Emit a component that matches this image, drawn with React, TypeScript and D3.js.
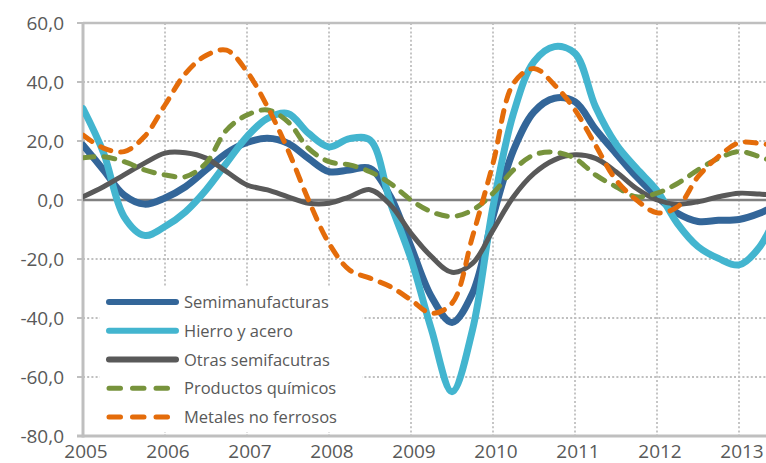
import * as d3 from "d3";

// trimestres (años decimales)
const quarters = d3.range(0, 35).map(i => 2005 + i * 0.25);

const semimanufacturas = [18.6, 10.2, 1.7, -1.4, 0.7, 4.5, 10.2, 15.9, 19.5, 20.9, 19.2, 14.1, 9.6, 10.2, 10.7, 1.1, -15.8, -32.8, -41.5, -31.6, -5.6, 16.9, 29.9, 34.5, 33.3, 24, 15.8, 7.9, 1.1, -4.5, -7.3, -6.9, -6.6, -4.5, -1];
const hierroAcero = [31, 16, -5.6, -12, -9, -4, 3.4, 12.5, 21.5, 27.7, 29.3, 22.6, 18, 20.8, 20.3, -1.1, -20, -44, -65, -44, -2.3, 29.4, 46.9, 52, 49.7, 31.6, 19, 10.7, 3.2, -8, -15.8, -19.8, -22, -16, -2];
const otrasSemi = [1.1, 4.5, 8.5, 12.5, 15.9, 16, 14.2, 9.6, 5.1, 3.4, 1.1, -1.1, -1.1, 1.1, 3.5, -1.7, -11.3, -19.2, -24.5, -21.5, -10.2, 1.1, 9, 13.6, 15.3, 14.1, 9.6, 3.9, 0, -1.4, -0.6, 1.1, 2.3, 2, 1.5];
const productosQuimicos = [14.3, 14.7, 13, 10.2, 8.5, 7.9, 12.5, 23.7, 28.8, 30.5, 26.5, 17.5, 13, 11.9, 9.6, 5.6, 0, -4, -5.6, -3.4, 2.3, 10.2, 15.3, 16.2, 14.1, 8.5, 4.5, 1.1, 2.3, 5.6, 10.2, 14.1, 16.4, 14.7, 12];
const metalesNoFerrosos = [22, 17.6, 16.4, 21.5, 32.2, 42.9, 49, 50.8, 43.5, 31.6, 16.9, 0, -14.7, -23.7, -26.5, -29.4, -33.9, -38.4, -35, -12.4, 12.4, 39.5, 44.6, 39, 30.5, 18.6, 6.8, 0, -4.3, -2.3, 7.9, 14.7, 19.4, 19.2, 18];

const yTicks = [60, 40, 20, 0, -20, -40, -60, -80];
const years = [2005, 2006, 2007, 2008, 2009, 2010, 2011, 2012, 2013];

const series = [
  { name: "Semimanufacturas", values: semimanufacturas, color: "#336699", width: 7, dash: null },
  { name: "Hierro y acero", values: hierroAcero, color: "#43B5CF", width: 7, dash: null },
  { name: "Otras semifacutras", values: otrasSemi, color: "#595959", width: 5, dash: null },
  { name: "Productos químicos", values: productosQuimicos, color: "#77933C", width: 5, dash: "11 10" },
  { name: "Metales no ferrosos", values: metalesNoFerrosos, color: "#E46C0A", width: 5, dash: "11 10" },
];

const W = 766, H = 463;
const left = 83, top = 23, bottom = 436;
const font = "'Open Sans', 'Noto Sans', sans-serif";

export default function App() {
  const x = d3.scaleLinear().domain([2005, 2013]).range([left, 739]);
  const y = d3.scaleLinear().domain([-80, 60]).range([bottom, top]);

  const line = d3.line<number>()
    .x((_, i) => x(quarters[i]))
    .y(d => y(d))
    .curve(d3.curveCatmullRom.alpha(0.5));

  const grid = "#BFBFBF";

  return (
    <svg width={W} height={H} style={{ position: "absolute", left: 0, top: 0 }} fontFamily={font}>
      <rect width={W} height={H} fill="#fff" />
      <defs>
        <clipPath id="plot"><rect x={left} y={0} width={W - left} height={H} /></clipPath>
      </defs>

      {/* rejilla horizontal punteada */}
      {yTicks.filter(v => v !== 60 && v !== 0 && v !== -80).map(v => (
        <line key={"h" + v} x1={left} x2={W} y1={y(v)} y2={y(v)} stroke={grid} strokeWidth={1.8} strokeDasharray="2 2.2" />
      ))}
      {/* rejilla vertical punteada */}
      {years.slice(1).map(yr => (
        <line key={"v" + yr} x1={x(yr)} x2={x(yr)} y1={top} y2={bottom} stroke={grid} strokeWidth={1.8} strokeDasharray="2 2.2" />
      ))}
      {/* marco */}
      <line x1={left} x2={W} y1={y(60)} y2={y(60)} stroke={grid} strokeWidth={2.5} />
      <line x1={left - 6} x2={W} y1={y(-80)} y2={y(-80)} stroke={grid} strokeWidth={3} />
      <line x1={left} x2={left} y1={top} y2={bottom + 1.5} stroke={grid} strokeWidth={3} />
      {yTicks.map(v => (
        <line key={"t" + v} x1={left - 6} x2={left} y1={y(v)} y2={y(v)} stroke={grid} strokeWidth={2} />
      ))}
      <line x1={left} x2={W} y1={y(0)} y2={y(0)} stroke="#808080" strokeWidth={2.5} />

      {/* etiquetas */}
      {yTicks.map(v => (
        <text key={"yl" + v} x={64} y={y(v) + 6.5} textAnchor="end" fontSize={19} fill="#595959">
          {d3.format(".1f")(v).replace(".", ",").replace("−", "-")}
        </text>
      ))}
      {years.map(yr => (
        <text key={"xl" + yr} x={x(yr) + 3} y={458} textAnchor="middle" fontSize={19} fill="#595959">{yr}</text>
      ))}

      {/* series */}
      <g clipPath="url(#plot)">
        {series.map(s => (
          <path key={s.name} d={line(s.values) ?? ""} fill="none" stroke={s.color} strokeWidth={s.width}
            strokeLinecap="round" strokeLinejoin="round" strokeDasharray={s.dash ?? undefined} />
        ))}
      </g>

      {/* leyenda */}
      <rect x={100} y={286} width={262} height={146} fill="#fff" />
      {series.map((s, i) => {
        const ly = 302 + i * 28.75;
        return (
          <g key={"lg" + s.name}>
            <line x1={109} x2={176} y1={ly} y2={ly} stroke={s.color} strokeWidth={s.dash ? 5 : 6}
              strokeLinecap="round" strokeDasharray={s.dash ? "11.5 12" : undefined} />
            <text x={184} y={ly + 6} fontSize={16.5} fill="#595959">{s.name}</text>
          </g>
        );
      })}
    </svg>
  );
}
